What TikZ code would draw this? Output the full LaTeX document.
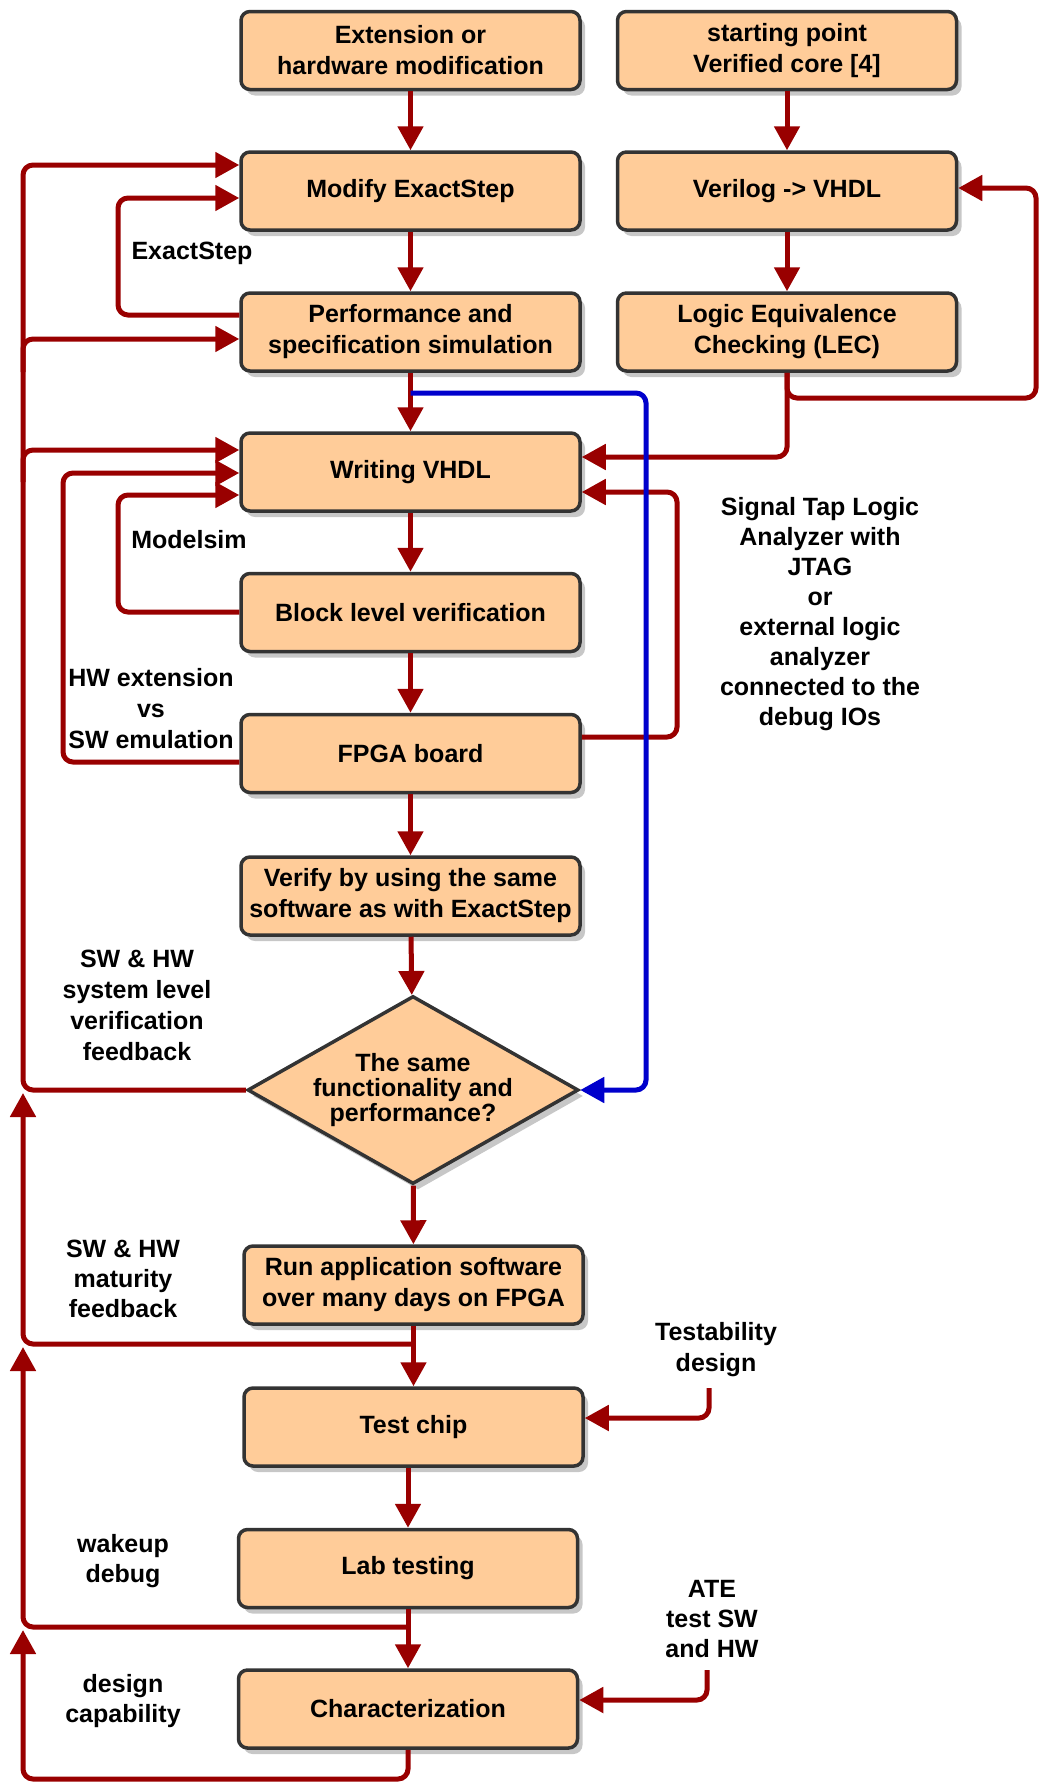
\documentclass[tikz,border=0pt]{standalone}
\usepackage{fontspec}
\setmainfont{Liberation Sans}
\usetikzlibrary{arrows.meta,shapes.geometric}
\definecolor{peach}{HTML}{FFCC99}
\definecolor{edgegray}{HTML}{333333}
\definecolor{dred}{HTML}{990000}
\definecolor{dblue}{HTML}{0000CC}
\begin{document}
\begin{tikzpicture}[x=1pt,y=-1pt,
  every node/.style={font=\fontsize{25}{31}\selectfont\bfseries},
  shadowed/.style={preaction={fill=black!22, transform canvas={shift={(5pt,-6pt)}}}},
  box/.style={shadowed, draw=edgegray, line width=3.5pt, fill=peach, rounded corners=9pt,
    minimum width=339pt, minimum height=78pt, align=center, inner sep=0pt},
  dia/.style={shadowed, diamond, draw=edgegray, line width=3.5pt, fill=peach, aspect=1.76,
    minimum width=331pt, minimum height=188pt, align=center, inner sep=0pt,
    font=\fontsize{25}{25}\selectfont\bfseries},
  conn/.style={draw=dred, line width=5pt, rounded corners=10pt, -{Triangle[length=24pt,width=25pt]}},
  lbl/.style={align=center, inner sep=0pt}]
\useasboundingbox (0,0) rectangle (1041,1783);

% nodes
\node[box] (ext) at (410.5,50.5) {Extension or\\hardware modification};
\node[box] (start) at (787,50.5) {starting point\\Verified core [4]};
\node[box] (modify) at (410.5,191) {Modify ExactStep};
\node[box] (verilog) at (787,191) {Verilog -> VHDL};
\node[box] (perf) at (410.5,332) {Performance and\\specification simulation};
\node[box] (lec) at (787,332) {Logic Equivalence\\Checking (LEC)};
\node[box] (writing) at (410.5,472) {Writing VHDL};
\node[box] (block) at (410.5,612.5) {Block level verification};
\node[box] (fpga) at (410.5,753.5) {FPGA board};
\node[box] (verify) at (410.5,896) {Verify by using the same\\software as with ExactStep};
\node[dia] (dec) at (413,1090) {The same\\functionality and\\performance?};
\node[box] (run) at (413.5,1285) {Run application software\\over many days on FPGA};
\node[box] (test) at (413.5,1427) {Test chip};
\node[box] (lab) at (408,1568.5) {Lab testing};
\node[box] (char) at (408,1709) {Characterization};

% labels
\node[lbl] (lexact) at (192,253) {ExactStep};
\node[lbl] (lmodel) at (189,540) {Modelsim};
\node[lbl] (lhw) at (151,709) {HW extension\\vs\\SW emulation};
\node[lbl, font=\fontsize{25}{30}\selectfont\bfseries] (lsig) at (820,614) {Signal Tap Logic\\Analyzer with\\JTAG\\or\\external logic\\analyzer\\connected to the\\debug IOs};
\node[lbl] (lsys) at (137,1005) {SW \& HW\\system level\\verification\\feedback};
\node[lbl, font=\fontsize{25}{30}\selectfont\bfseries] (lmat) at (123,1279) {SW \& HW\\maturity\\feedback};
\node[lbl] (ltest) at (716,1350) {Testability\\design};
\node[lbl, font=\fontsize{25}{30}\selectfont\bfseries] (lwake) at (123,1561) {wakeup\\debug};
\node[lbl, font=\fontsize{25}{30}\selectfont\bfseries] (late) at (712,1619) {ATE\\test SW\\and HW};
\node[lbl, font=\fontsize{25}{30}\selectfont\bfseries] (ldes) at (123,1701) {design\\capability};

% main flow
\draw[conn] (ext) -- (modify);
\draw[conn] (start) -- (verilog);
\draw[conn] (modify) -- (perf);
\draw[conn] (verilog) -- (lec);
\draw[conn] (perf) -- (writing);
\draw[conn] (writing) -- (block);
\draw[conn] (block) -- (fpga);
\draw[conn] (fpga) -- (verify);
\draw[conn] (verify) -- (dec);
\draw[conn] (dec) -- (run);
\draw[conn] (run) -- (test);
\draw[conn] (lab.north |- test.south) -- (lab.north);
\draw[conn] (lab) -- (char);

% local loops
\draw[conn] (perf.west |- 0,315) -- (118,315) -- (118,198) -- (modify.west |- 0,198);
\draw[conn] (block.west |- 0,612) -- (118,612) -- (118,495) -- (writing.west |- 0,495);
\draw[conn] (fpga.west |- 0,762) -- (63,762) -- (63,473) -- (writing.west |- 0,473);

% system feedback
\draw[conn] (dec.west) -- (23,1090) -- (23,165) -- (modify.west |- 0,165);
\draw[conn] (23,372) -- (23,339) -- (perf.west |- 0,339);
\draw[conn] (23,482) -- (23,450) -- (writing.west |- 0,450);

\coordinate (j1) at (413,1344);
\draw[conn] (j1) -- (23,1344) -- (23,1093);
\coordinate (j2) at (408,1627);
\draw[conn] (j2) -- (23,1627) -- (23,1347);
\draw[conn] (char.south) -- (408,1779) -- (23,1779) -- (23,1630);

% right side
\draw[conn] (lec.south) -- (787,398) -- (1036,398) -- (1036,188) -- (verilog.east |- 0,188);
\draw[conn] (lec.south) -- (787,457) -- (writing.east |- 0,457);
\draw[conn] (fpga.east |- 0,737) -- (677,737) -- (677,492) -- (writing.east |- 0,492);

\coordinate (tsrc) at (709,1388);
\draw[conn] (tsrc) -- (709,1418) -- (test.east |- 0,1418);
\coordinate (asrc) at (707,1670);
\draw[conn] (asrc) -- (707,1700) -- (char.east |- 0,1700);

% blue
\coordinate (bsrc) at (perf.south |- 0,393);
\draw[conn, draw=dblue] (bsrc) -- (646,393) -- (646,1090) -- (dec.east);
\end{tikzpicture}
\end{document}
